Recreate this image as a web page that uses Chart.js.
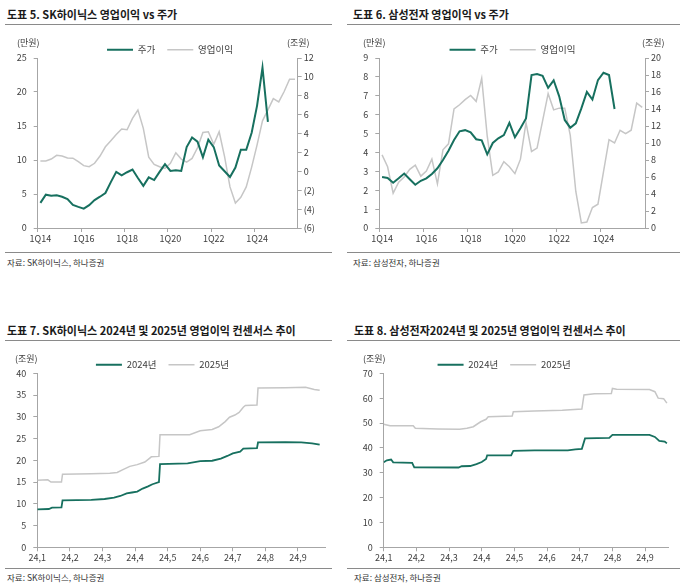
<!DOCTYPE html>
<html>
<head>
<meta charset="utf-8">
<script src="https://cdn.jsdelivr.net/npm/chart.js@4"></script>
<style>
  body { margin: 0; width: 685px; height: 587px; position: relative; background: #fff; overflow: hidden;
         font-family: 'Noto Sans CJK KR', 'Noto Sans', sans-serif; }
  canvas { position: absolute; }
  .title { position: absolute; font-size: 11px; line-height: 12px; font-weight: bold; color: #1a1a1a; white-space: nowrap; z-index: 2; }
  .rule { position: absolute; height: 1px; background: #8a8a8a; }
  .src { position: absolute; font-size: 8.5px; line-height: 10px; color: #333; white-space: nowrap; }
  .unit { position: absolute; font-size: 9px; line-height: 10px; color: #404040; white-space: nowrap; z-index: 2; }
</style>
</head>
<body>
<div class="title" style="left:7px;top:8px">도표 5. SK하이닉스 영업이익 vs 주가</div>
<div class="title" style="left:353px;top:8px">도표 6. 삼성전자 영업이익 vs 주가</div>
<div class="rule" style="left:5px;top:24px;width:327px"></div>
<div class="rule" style="left:347px;top:24px;width:333px"></div>

<div class="unit" style="left:17px;top:38px">(만원)</div>
<div class="unit" style="left:287px;top:38px">(조원)</div>
<div class="unit" style="left:363px;top:38px">(만원)</div>
<div class="unit" style="left:642px;top:38px">(조원)</div>

<canvas id="c5" width="340" height="217" style="left:0;top:33px"></canvas>
<canvas id="c6" width="345" height="217" style="left:340px;top:33px"></canvas>

<div class="rule" style="left:5px;top:252px;width:327px"></div>
<div class="rule" style="left:347px;top:252px;width:333px"></div>
<div class="src" style="left:7px;top:257px">자료: SK하이닉스, 하나증권</div>
<div class="src" style="left:353px;top:257px">자료: 삼성전자, 하나증권</div>

<div class="title" style="left:7px;top:324px">도표 7. SK하이닉스 2024년 및 2025년 영업이익 컨센서스 추이</div>
<div class="title" style="left:354px;top:324px">도표 8. 삼성전자2024년 및 2025년 영업이익 컨센서스 추이</div>
<div class="rule" style="left:5px;top:340px;width:327px"></div>
<div class="rule" style="left:347px;top:340px;width:333px"></div>

<div class="unit" style="left:15px;top:354px">(조원)</div>
<div class="unit" style="left:363px;top:354px">(조원)</div>

<canvas id="c7" width="340" height="217" style="left:0;top:348px"></canvas>
<canvas id="c8" width="345" height="217" style="left:340px;top:348px"></canvas>

<div class="rule" style="left:5px;top:568px;width:327px"></div>
<div class="rule" style="left:347px;top:568px;width:333px"></div>
<div class="src" style="left:7px;top:572px">자료: SK하이닉스, 하나증권</div>
<div class="src" style="left:354px;top:572px">자료: 삼성전자, 하나증권</div>

<script>
// quarterly categories (1Q14 ~ 4Q25)
const quarters = [
  '1Q14','2Q14','3Q14','4Q14','1Q15','2Q15','3Q15','4Q15',
  '1Q16','2Q16','3Q16','4Q16','1Q17','2Q17','3Q17','4Q17',
  '1Q18','2Q18','3Q18','4Q18','1Q19','2Q19','3Q19','4Q19',
  '1Q20','2Q20','3Q20','4Q20','1Q21','2Q21','3Q21','4Q21',
  '1Q22','2Q22','3Q22','4Q22','1Q23','2Q23','3Q23','4Q23',
  '1Q24','2Q24','3Q24','4Q24','1Q25','2Q25','3Q25','4Q25'
];

// SK hynix: share price (만원), operating profit (조원)
const skhPrice = [3.7, 4.9, 4.75, 4.8, 4.6, 4.25, 3.4, 3.1, 2.85, 3.35, 4.1, 4.6,
  5.15, 6.75, 8.25, 7.75, 8.2, 8.6, 7.35, 6.2, 7.45, 7.05, 8.25, 9.4,
  8.4, 8.5, 8.4, 11.9, 13.3, 12.7, 10.4, 13.0, 11.9, 9.2, 8.35, 7.5,
  8.9, 11.5, 11.5, 14.0, 18.0, 23.6, 15.6];
const skhOp = [1.09, 1.09, 1.3, 1.7, 1.62, 1.41, 1.39, 1.02, 0.6, 0.49, 0.85, 1.62,
  2.6, 3.25, 3.9, 4.48, 4.4, 5.6, 6.49, 4.55, 1.5, 0.74, 0.49, 0.31,
  0.85, 1.97, 1.3, 0.98, 1.37, 2.5, 4.12, 4.19, 2.86, 4.19, 1.55, -1.65,
  -3.35, -2.75, -1.65, 0.45, 2.8, 5.35, 6.5, 7.7, 7.35, 8.45, 9.75, 9.75];

// Samsung Electronics: share price (만원), operating profit (조원)
const ssPrice = [2.7, 2.65, 2.4, 2.63, 2.88, 2.58, 2.29, 2.5, 2.63, 2.86, 3.16, 3.6,
  4.09, 4.66, 5.12, 5.18, 5.06, 4.7, 4.64, 3.9, 4.5, 4.75, 4.92, 5.57,
  4.8, 5.28, 5.8, 8.1, 8.15, 8.06, 7.42, 7.82, 6.97, 5.72, 5.31, 5.54,
  6.33, 7.2, 6.8, 7.83, 8.22, 8.1, 6.3];
const ssOp = [8.6, 7.2, 4.1, 5.4, 6.0, 6.9, 7.4, 6.1, 6.7, 8.1, 5.2, 9.2,
  9.9, 14.0, 14.5, 15.1, 15.6, 14.9, 17.6, 10.8, 6.2, 6.6, 7.8, 7.2,
  6.4, 8.1, 12.4, 9.0, 9.4, 12.6, 15.8, 13.9, 14.1, 14.1, 10.9, 4.3,
  0.6, 0.7, 2.4, 2.8, 6.6, 10.4, 10.0, 11.5, 11.1, 11.5, 14.7, 14.2];

// consensus charts: month tick labels
const monthTicks = ['24,1', '24,2', '24,3', '24,4', '24,5', '24,6', '24,7', '24,8', '24,9'];

// SK hynix consensus (조원), 2024 dates
const skhDates24 = ['01-01','01-12','01-15','01-24','01-25','02-20','03-03','03-12','03-18','03-24',
  '03-29','04-03','04-08','04-13','04-17','04-23','04-24','05-20','06-01','06-12',
  '06-20','06-26','07-01','07-08','07-11','07-24','07-25','08-20','09-04','09-14','09-21'];
const skhCons24 = [8.7, 8.8, 9.1, 9.2, 10.8, 10.9, 11.1, 11.4, 11.8, 12.4,
  12.6, 12.8, 13.5, 14.0, 14.5, 15.0, 19.1, 19.3, 19.8, 19.9,
  20.4, 21.0, 21.6, 22.0, 22.7, 22.8, 24.1, 24.2, 24.1, 23.9, 23.6];
const skhDates25 = ['01-01','01-11','01-14','01-24','01-25','02-20','03-08','03-15','03-20','03-27',
  '04-03','04-10','04-14','04-16','04-23','04-24','05-22','06-01','06-12','06-18',
  '06-24','06-28','07-03','07-07','07-11','07-13','07-24','07-25','08-20','09-08','09-16','09-21'];
const skhCons25 = [15.4, 15.5, 15.0, 15.0, 16.8, 16.9, 17.0, 17.2, 17.8, 18.6,
  19.0, 19.6, 20.4, 20.8, 20.9, 25.9, 25.9, 26.8, 27.1, 27.7,
  28.9, 29.9, 30.4, 31.0, 32.2, 32.6, 32.7, 36.6, 36.7, 36.8, 36.3, 36.1];

// Samsung consensus (조원)
const ssDates24 = ['01-01','01-04','01-08','01-10','01-28','01-30','03-10','03-13','03-21','03-27',
  '04-01','04-05','04-06','04-28','04-30','05-20','06-10','06-20','06-27','07-03',
  '07-06','07-29','08-01','09-05','09-10','09-14','09-19','09-21'];
const ssCons24 = [34.2, 35.0, 35.3, 34.2, 34.0, 32.2, 32.1, 32.6, 32.7, 33.5,
  34.3, 35.5, 37.0, 37.0, 38.8, 39.0, 39.0, 39.0, 39.4, 39.6,
  43.8, 44.0, 45.2, 45.2, 44.4, 42.8, 42.5, 41.8];
const ssDates25 = ['01-01','01-07','01-29','01-31','02-20','03-11','03-18','03-24','03-31','04-05',
  '04-07','04-29','04-30','05-20','06-15','07-03','07-05','07-15','07-31','08-01',
  '08-05','09-05','09-10','09-13','09-18','09-21'];
const ssCons25 = [49.5, 48.9, 48.9, 47.9, 47.6, 47.5, 47.9, 48.5, 50.5, 51.5,
  52.5, 52.8, 54.5, 54.8, 55.1, 55.6, 61.3, 61.8, 61.9, 63.9,
  63.6, 63.5, 62.6, 60.0, 59.8, 58.0];

const daysIn = [31, 29, 31, 30, 31, 30, 31, 31, 30];
function mpos(d) {
  const [mo, day] = d.split('-').map(Number);
  return mo - 1 + (day - 1) / daysIn[mo - 1];
}

Chart.defaults.font.family = "'Noto Sans CJK KR', 'Noto Sans', sans-serif";
Chart.defaults.font.size = 9;
Chart.defaults.color = '#404040';

const GREEN = '#17705f';
const GREY = '#c6c6c6';
const AXIS = '#a6a6a6';

function legendOpts(maxH) {
  return {
    display: true,
    position: 'top',
    maxHeight: maxH,
    labels: {
      usePointStyle: true,
      pointStyle: 'line',
      pointStyleWidth: 26,
      padding: 12,
      color: '#404040',
      font: { size: 9.5 }
    }
  };
}

function yAxis(pos, min, max, step, width, pad, fmt) {
  return {
    position: pos,
    min, max,
    ticks: { stepSize: step, padding: pad, callback: fmt || ((v) => v) },
    grid: { drawOnChartArea: false, tickLength: 4, color: AXIS },
    border: { color: AXIS },
    afterFit: (s) => { s.width = width; }
  };
}

function quarterChart(id, price, op, left, right, dims) {
  new Chart(document.getElementById(id), {
    type: 'line',
    data: {
      labels: quarters,
      datasets: [
        { label: '주가', data: price, yAxisID: 'y', borderColor: GREEN, backgroundColor: GREEN, borderWidth: 2 },
        { label: '영업이익', data: op, yAxisID: 'y1', borderColor: GREY, backgroundColor: GREY, borderWidth: 1.5 }
      ]
    },
    options: {
      responsive: false,
      animation: false,
      devicePixelRatio: 1,
      layout: { padding: 0 },
      elements: { point: { radius: 0 }, line: { tension: 0 } },
      plugins: { legend: legendOpts(dims.legendH), tooltip: { enabled: false } },
      scales: {
        x: {
          type: 'category',
          offset: true,
          grid: {
            offset: true,
            drawOnChartArea: false,
            tickLength: 4,
            color: (c) => (c.index % 8 === 0 ? AXIS : 'rgba(0,0,0,0)')
          },
          border: { color: AXIS },
          ticks: { autoSkip: false, maxRotation: 0, padding: 1, callback: (v, i) => (i % 8 === 0 ? quarters[i] : '') },
          afterFit: (s) => { s.height = dims.xH; }
        },
        y: yAxis('left', left[0], left[1], left[2], dims.leftW, 7),
        y1: yAxis('right', right[0], right[1], right[2], dims.rightW, 2, (v) => (v < 0 ? `(${-v})` : v))
      }
    }
  });
}

function consensusChart(id, d24, v24, d25, v25, yMax, yStep, xMax, dims) {
  new Chart(document.getElementById(id), {
    type: 'line',
    data: {
      datasets: [
        { label: '2024년', data: d24.map((d, i) => ({ x: mpos(d), y: v24[i] })), borderColor: GREEN, backgroundColor: GREEN, borderWidth: 1.8 },
        { label: '2025년', data: d25.map((d, i) => ({ x: mpos(d), y: v25[i] })), borderColor: GREY, backgroundColor: GREY, borderWidth: 1.5 }
      ]
    },
    options: {
      responsive: false,
      animation: false,
      devicePixelRatio: 1,
      layout: { padding: { right: dims.padR } },
      elements: { point: { radius: 0 }, line: { tension: 0 } },
      plugins: { legend: legendOpts(dims.legendH), tooltip: { enabled: false } },
      scales: {
        x: {
          type: 'linear',
          min: 0,
          max: xMax,
          grid: { drawOnChartArea: false, tickLength: 4, color: AXIS },
          border: { color: AXIS },
          ticks: { stepSize: 1, includeBounds: false, autoSkip: false, maxRotation: 0, padding: 1,
                   callback: (v) => monthTicks[v] ?? '' },
          afterFit: (s) => { s.height = dims.xH; }
        },
        y: yAxis('left', 0, yMax, yStep, dims.leftW, 7)
      }
    }
  });
}

quarterChart('c5', skhPrice, skhOp, [0, 25, 5], [-6, 12, 2],
  { legendH: 25, xH: 22, leftW: 37.7, rightW: 42.3 });
quarterChart('c6', ssPrice, ssOp, [0, 9, 1], [0, 20, 2],
  { legendH: 25, xH: 22, leftW: 39.3, rightW: 40 });
consensusChart('c7', skhDates24, skhCons24, skhDates25, skhCons25, 40, 5, 8.83,
  { legendH: 25.3, xH: 17.7, leftW: 37.3, padR: 15 });
consensusChart('c8', ssDates24, ssCons24, ssDates25, ssCons25, 70, 10, 8.71,
  { legendH: 25.3, xH: 17.7, leftW: 43.7, padR: 16.7 });
</script>
</body>
</html>
